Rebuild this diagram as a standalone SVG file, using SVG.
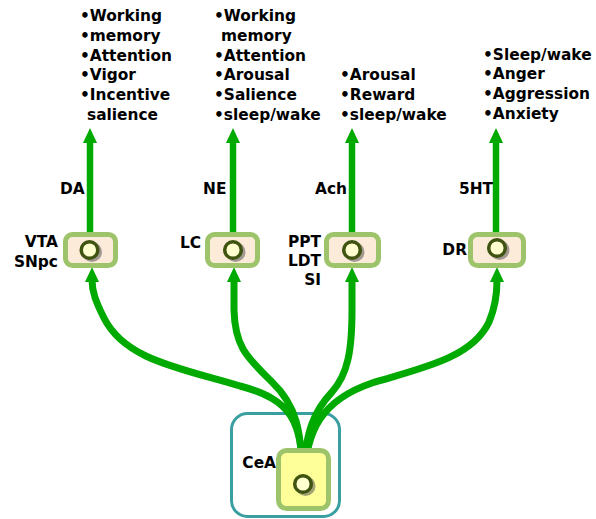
<svg xmlns="http://www.w3.org/2000/svg" width="596" height="519" viewBox="0 0 596 519">
  <style>
    text { font-family: "DejaVu Sans", "Liberation Sans", sans-serif; font-weight: bold; font-size: 15.4px; fill: #000; }
    .lbl { text-anchor: end; }
    .shaft { fill: none; stroke: #00aa00; stroke-width: 6.5; }
    .curve { fill: none; stroke: #00aa00; stroke-width: 7; stroke-linecap: butt; }
    .head { fill: #00aa00; }
    .box { fill: #fdebd9; stroke: #9dc36b; stroke-width: 5; }
    .core { fill: #ffff99; stroke: #9dc36b; stroke-width: 5; }
    .ring { fill: #ffffd0; stroke: #3e5410; stroke-width: 3.5; }
    .shadow { fill: #555; opacity: 0.55; }
  </style>

  <!-- CeA outer region -->
  <g id="cea-region">
    <rect x="231.5" y="413.5" width="108" height="103" rx="16" fill="#fff" stroke="#3a9fa0" stroke-width="3"/>
  </g>

  <!-- projections from CeA to the nuclei, plus output arrows -->
  <g id="connectors">
    <path class="curve" d="M303,480 C302,420 292,400 240,386 C180,368 125,360 104,318 C96,302 92,292 92,280"/>
    <path class="curve" d="M302,480 C302,430 296,405 272,382 C248,358 235,348 234,310 L234,280"/>
    <path class="curve" d="M303,480 C305,430 315,410 332,392 C348,374 352,350 352,310 L352,280"/>
    <path class="curve" d="M304,480 C306,430 322,400 372,383 C422,368 472,358 489,322 C495,308 497,296 497,280"/>
    <path class="head" d="M85,282 L99,282 L92,267 Z"/>
    <path class="head" d="M227,282 L241,282 L234,267 Z"/>
    <path class="head" d="M345,282 L359,282 L352,267 Z"/>
    <path class="head" d="M490,282 L504,282 L497,267 Z"/>

    <path class="shaft" d="M90,233 L90,142"/>
    <path class="shaft" d="M233,233 L233,142"/>
    <path class="shaft" d="M352,233 L352,142"/>
    <path class="shaft" d="M496,233 L496,142"/>
    <path class="head" d="M83,143 L97,143 L90,128 Z"/>
    <path class="head" d="M226,143 L240,143 L233,128 Z"/>
    <path class="head" d="M345,143 L359,143 L352,128 Z"/>
    <path class="head" d="M489,143 L503,143 L496,128 Z"/>
  </g>

  <!-- VTA / SNpc -->
  <g id="vta">
    <rect class="box" x="65.5" y="234.5" width="50" height="31" rx="7"/>
    <circle class="shadow" cx="92" cy="252" r="10"/>
    <circle class="ring" cx="89.5" cy="250" r="8.3"/>
    <text class="lbl" x="58" y="247">VTA</text>
    <text class="lbl" x="58" y="267">SNpc</text>
  </g>

  <!-- LC -->
  <g id="lc">
    <rect class="box" x="207.5" y="234.5" width="50" height="31" rx="7"/>
    <circle class="shadow" cx="235.5" cy="252" r="10"/>
    <circle class="ring" cx="233" cy="250" r="8.3"/>
    <text class="lbl" x="201" y="248">LC</text>
  </g>

  <!-- PPT / LDT / SI -->
  <g id="ppt">
    <rect class="box" x="326.5" y="234.5" width="52" height="31" rx="7"/>
    <circle class="shadow" cx="354.5" cy="252" r="10"/>
    <circle class="ring" cx="352" cy="250" r="8.3"/>
    <text class="lbl" x="321" y="247">PPT</text>
    <text class="lbl" x="321" y="266">LDT</text>
    <text class="lbl" x="321" y="285">SI</text>
  </g>

  <!-- DR -->
  <g id="dr">
    <rect class="box" x="470.5" y="234.5" width="53" height="31" rx="7"/>
    <circle class="shadow" cx="499.5" cy="250" r="10"/>
    <circle class="ring" cx="497" cy="248" r="8.3"/>
    <text class="lbl" x="467" y="255">DR</text>
  </g>

  <!-- CeA -->
  <g id="cea">
    <rect class="core" x="278.5" y="450.5" width="50" height="58" rx="8"/>
    <circle class="shadow" cx="305.5" cy="486" r="10"/>
    <circle class="ring" cx="303" cy="484" r="8.3"/>
    <text class="lbl" x="276" y="468">CeA</text>
  </g>

  <!-- transmitter labels -->
  <g id="transmitters">
    <text x="60" y="194">DA</text>
    <text x="203" y="194">NE</text>
    <text x="315" y="194">Ach</text>
    <text x="459" y="194">5HT</text>
  </g>

  <!-- functions -->
  <g id="functions">
    <text x="80" y="21">•Working</text>
    <text x="80" y="41">•memory</text>
    <text x="80" y="61">•Attention</text>
    <text x="80" y="80">•Vigor</text>
    <text x="80" y="100">•Incentive</text>
    <text x="87" y="120">salience</text>

    <text x="214" y="21">•Working</text>
    <text x="221" y="41">memory</text>
    <text x="214" y="61">•Attention</text>
    <text x="214" y="80">•Arousal</text>
    <text x="214" y="100">•Salience</text>
    <text x="214" y="120">•sleep/wake</text>

    <text x="340" y="80">•Arousal</text>
    <text x="340" y="100">•Reward</text>
    <text x="340" y="120">•sleep/wake</text>

    <text x="483" y="60">•Sleep/wake</text>
    <text x="483" y="79">•Anger</text>
    <text x="483" y="99">•Aggression</text>
    <text x="483" y="119">•Anxiety</text>
  </g>
</svg>
